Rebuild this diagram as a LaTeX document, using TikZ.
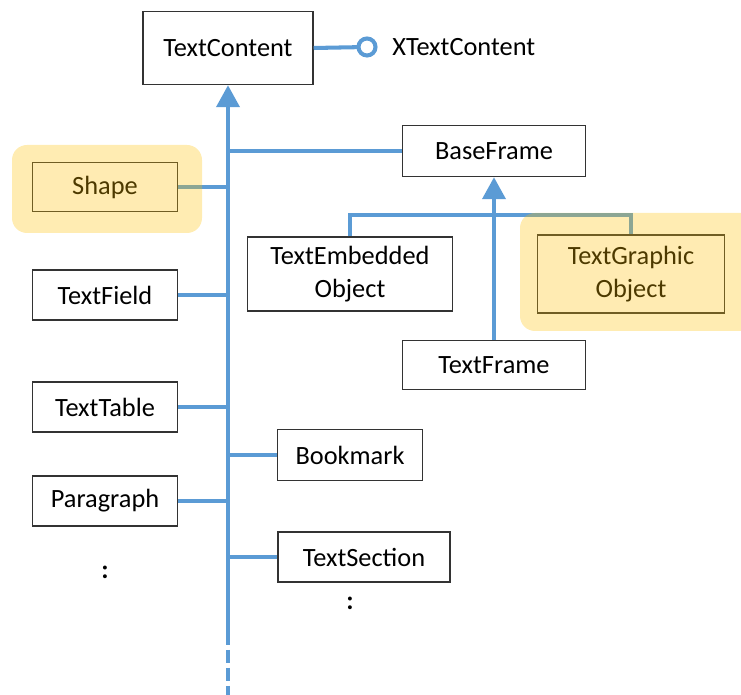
\documentclass[tikz,border=0pt]{standalone}
\usepackage{fontspec}
\setmainfont{Carlito}
\usetikzlibrary{positioning,arrows.meta,calc}
\definecolor{umlblue}{RGB}{91,155,213}
\definecolor{hlyellow}{RGB}{255,192,0}

\begin{document}
\begin{tikzpicture}[x=0.02cm, y=-0.02cm,
    cls/.style={draw=black!80, line width=0.85pt, fill=white, inner sep=0pt,
                align=center, font=\fontsize{15}{18.7}\selectfont},
    lbl/.style={inner sep=0pt, font=\fontsize{15}{18.7}\selectfont},
    link/.style={umlblue, line width=2.3pt},
    inherit/.style={link, -{Triangle[width=0.46cm,length=0.44cm]}},
    hilite/.style={fill=hlyellow, fill opacity=0.3, rounded corners=0.3cm}]
%
    \clip (0,0) rectangle (741,695);
%
    \node[cls, minimum width=3.4cm,  minimum height=1.46cm] (tc)     at (228, 48) {TextContent};
    \node[cls, minimum width=3.66cm, minimum height=1.02cm] (bf)     at (494,151) {BaseFrame};
    \node[cls, minimum width=2.9cm,  minimum height=0.98cm] (shape)  at (105,187) {Shape};
    \node[cls, minimum width=4.1cm,  minimum height=1.48cm] (teo)    at (350,274) {TextEmbedded\\Object};
    \node[cls, minimum width=3.74cm, minimum height=1.56cm] (tgo)    at (631,274) {TextGraphic\\Object};
    \node[cls, minimum width=3.66cm, minimum height=0.98cm] (tf)     at (494,365) {TextFrame};
    \node[cls, minimum width=2.9cm,  minimum height=1.0cm]  (tfield) at (105,295) {TextField};
    \node[cls, minimum width=2.9cm,  minimum height=1.0cm]  (ttable) at (105,407) {TextTable};
    \node[cls, minimum width=2.9cm,  minimum height=1.02cm] (bm)     at (350,455) {Bookmark};
    \node[cls, minimum width=2.9cm,  minimum height=1.0cm]  (para)   at (105,501) {Paragraph};
    \node[cls, minimum width=3.44cm, minimum height=1.0cm]  (tsec)   at (364,557) {TextSection};
%
    \node[lbl] (moreleft)  at (105,572) {\textbf{:}};
    \node[lbl] (moreright) at (350,603) {\textbf{:}};
%
    % interface lollipop
    \node[coordinate] (xtc) at (367,47) {};
    \node[lbl, right=0.5cm of xtc] (xtcl) {XTextContent};
    \draw[link] (tc.east) -- (xtc);
    \draw[link, fill=white] (xtc) circle [radius=0.17cm];
%
    % trunk to TextContent
    \node[coordinate] (trunk)    at (228,632) {};
    \node[coordinate] (trunkend) at (228,700) {};
    \draw[inherit] (trunk) -- (tc.south);
    \draw[link, dash pattern=on 0.26cm off 0.1cm] (trunk) -- (trunkend);
    \foreach \n/\a in {bf/west, shape/east, tfield/east, ttable/east, bm/west, para/east, tsec/west}
      \draw[link] (\n.\a) -- (\n.\a -| tc.south);
%
    % BaseFrame subclasses
    \node[coordinate] (bus) at (494,215) {};
    \draw[link] (teo.north) |- (bus) -| (tgo.north);
    \draw[inherit] (tf.north) -- (bf.south);
%
    % highlights
    \fill[hilite] (12,145) rectangle (202,233);
    \fill[hilite] (520,213) rectangle (770,331);
  \end{tikzpicture}
\end{document}
